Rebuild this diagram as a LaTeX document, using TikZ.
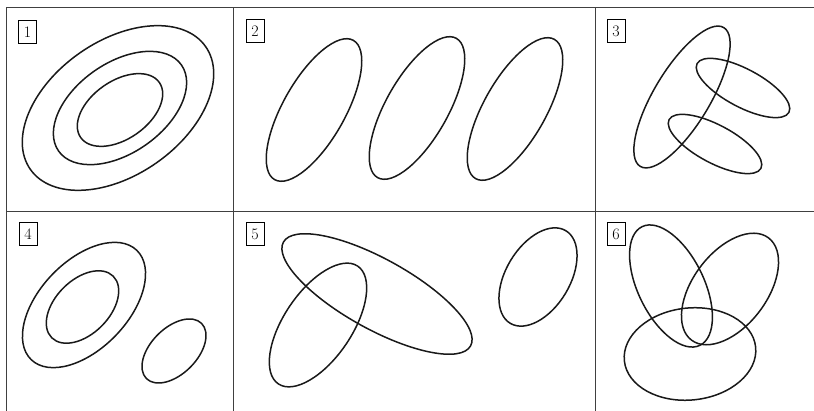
\documentclass[tikz,border=0pt]{standalone}
\usepackage{tikz}
\usetikzlibrary{positioning}

\begin{document}
\begin{tikzpicture}[x=1pt,y=1pt,
  contour/.style={line width=1.5pt,black!90},
  grid/.style={line width=0.9pt,black!75},
  tag/.style={draw,line width=0.7pt,inner sep=0pt,minimum width=18pt,minimum height=23pt,font=\fontsize{16}{16}\selectfont}]
  \useasboundingbox (0,0) rectangle (814,411);
  % Panel frame
  \draw[grid] (6,0) -- (6,404) -- (814,404);
  \draw[grid] (6,200) -- (814,200);
  \draw[grid] (233.5,0) -- (233.5,404);
  \draw[grid] (595.5,0) -- (595.5,404);
  % Panel numbers
  \node[tag] (lab1) at (27.5,379) {1};
  \node[tag] (lab2) at (255,380) {2};
  \node[tag] (lab3) at (616,380) {3};
  \node[tag] (lab4) at (28,177) {4};
  \node[tag] (lab5) at (255,177) {5};
  \node[tag] (lab6) at (616,177) {6};
  % 1: nested rings
  \draw[contour,rotate around={35:(118,303)}] (118,303) ellipse (107pt and 67pt);
  \draw[contour,rotate around={35:(120,303)}] (120,303) ellipse (75pt and 45pt);
  \draw[contour,rotate around={35:(120,301)}] (120,301) ellipse (48pt and 29pt);
  % 2: three separate ovals
  \foreach \cx/\cy in {314/301,417/303,515/302}
    \draw[contour,rotate around={60.5:(\cx,\cy)}] (\cx,\cy) ellipse (80pt and 31pt);
  % 3: one big oval crossed by two small ones
  \draw[contour,rotate around={59:(682,314)}] (682,314) ellipse (81pt and 28pt);
  \draw[contour,rotate around={-28:(743,323)}] (743,323) ellipse (52pt and 19pt);
  \draw[contour,rotate around={-28:(715,267)}] (715,267) ellipse (52pt and 19pt);
  % 4: two rings and a loose oval
  \draw[contour,rotate around={46:(84,106)}] (84,106) ellipse (76pt and 44pt);
  \draw[contour,rotate around={45:(82.5,104)}] (82.5,104) ellipse (43.5pt and 27pt);
  \draw[contour,rotate around={45:(174,60)}] (174,60) ellipse (39pt and 23pt);
  % 5: crossing pair and a loose oval
  \draw[contour,rotate around={-29:(377,117)}] (377,117) ellipse (107pt and 35pt);
  \draw[contour,rotate around={56:(318,86)}] (318,86) ellipse (71pt and 34pt);
  \draw[contour,rotate around={59:(538,134)}] (538,134) ellipse (54pt and 32pt);
  % 6: three overlapping ovals
  \draw[contour,rotate around={-64:(671,125)}] (671,125) ellipse (66pt and 33pt);
  \draw[contour,rotate around={53:(730,122)}] (730,122) ellipse (64pt and 37pt);
  \draw[contour,rotate around={6:(690,57)}] (690,57) ellipse (66pt and 46pt);
\end{tikzpicture}
\end{document}
